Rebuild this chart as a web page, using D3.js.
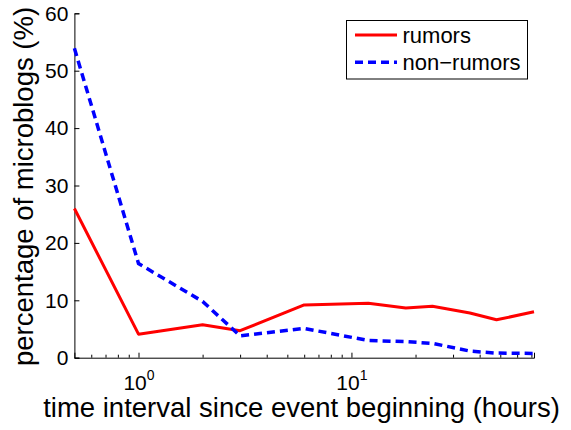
<!DOCTYPE html>
<html>
<head>
<meta charset="utf-8">
<script src="https://cdn.jsdelivr.net/npm/d3@7"></script>
<style>
  html, body { margin: 0; padding: 0; background: #fff; }
  svg { display: block; font-family: "Liberation Sans", Arial, sans-serif; }
</style>
</head>
<body>
<svg id="chart" width="571" height="430"></svg>
<script>
// Data (hours since event beginning)
const hours = [0.5, 1, 2, 3, 6, 12, 18, 24, 36, 48, 72];
const rumors = [26.0, 4.1, 5.75, 4.7, 9.2, 9.5, 8.65, 8.95, 7.8, 6.6, 8.0];
const nonRumors = [53.9, 16.4, 9.8, 3.8, 5.1, 3.0, 2.8, 2.5, 1.15, 0.8, 0.75];
const yTicks = [0, 10, 20, 30, 40, 50, 60];
const xMajorTicks = [1, 10];
const xMinorTicks = [0.6, 0.7, 0.8, 0.9, 2, 3, 4, 5, 6, 7, 8, 9, 20, 30, 40, 50, 60, 70];
const seriesNames = ["rumors", "non\u2212rumors"];

const svg = d3.select("#chart");
const pLeft = 74.4, pRight = 534, pTop = 13.3, pBottom = 357.7;

const x = d3.scaleLog().domain([0.5, 72]).range([pLeft, pRight]);
const y = d3.scaleLinear().domain([0, 60]).range([pBottom, pTop]);

const g = svg.append("g");

// Y axis (ticks inward)
const yAxis = d3.axisLeft(y).tickValues(yTicks).tickSize(-5).tickPadding(6).tickFormat(d3.format("d"));
const gy = g.append("g").attr("transform", `translate(${pLeft},0)`).call(yAxis);
gy.select(".domain").attr("stroke", "#000").attr("stroke-width", 1);
gy.selectAll(".tick line").attr("stroke", "#000");
gy.selectAll(".tick text").attr("font-size", 21).attr("fill", "#000")
  .attr("font-family", "Liberation Sans, Arial, sans-serif");

// X axis major ticks inward
const xAxis = d3.axisBottom(x).tickValues(xMajorTicks).tickSize(-5).tickFormat(() => "");
const gx = g.append("g").attr("transform", `translate(0,${pBottom})`).call(xAxis);
gx.select(".domain").attr("stroke", "#000").attr("stroke-width", 1);
gx.selectAll(".tick line").attr("stroke", "#000");
// custom superscript labels for major ticks
gx.selectAll(".tick").each(function(d) {
  const t = d3.select(this).select("text");
  t.attr("font-size", 21).attr("fill", "#000").attr("y", 32).attr("dy", null).attr("text-anchor", "middle")
   .attr("font-family", "Liberation Sans, Arial, sans-serif");
  t.text(null);
  t.append("tspan").text("10");
  t.append("tspan").attr("font-size", 14).attr("dy", -10).text(String(Math.round(Math.log10(d))));
});
// minor ticks
const xMinorAxis = d3.axisBottom(x).tickValues(xMinorTicks).tickSize(-3).tickFormat(() => "");
const gxm = g.append("g").attr("transform", `translate(0,${pBottom})`).call(xMinorAxis);
gxm.select(".domain").remove();
gxm.selectAll(".tick line").attr("stroke", "#000");

// Lines
const line = d3.line().x((d, i) => x(hours[i])).y(d => y(d));
g.append("path").datum(rumors).attr("d", line)
  .attr("fill", "none").attr("stroke", "#ff0000").attr("stroke-width", 3).attr("stroke-linejoin", "round");
g.append("path").datum(nonRumors).attr("d", line)
  .attr("fill", "none").attr("stroke", "#0000ff").attr("stroke-width", 3.5).attr("stroke-dasharray", "8,5");

// Axis labels
svg.append("text").attr("x", 301.5).attr("y", 416.5).attr("text-anchor", "middle")
  .attr("font-size", 27.5).attr("fill", "#000").text("time interval since event beginning (hours)");
svg.append("text").attr("transform", "translate(32.5,186.5) rotate(-90)").attr("text-anchor", "middle")
  .attr("font-size", 27.5).attr("fill", "#000").text("percentage of microblogs (%)");

// Legend
const lg = svg.append("g");
lg.append("rect").attr("x", 346.5).attr("y", 20.5).attr("width", 181).attr("height", 58.5)
  .attr("fill", "#fff").attr("stroke", "#000").attr("stroke-width", 1);
const legendColors = ["#ff0000", "#0000ff"];
const legendDash = [null, "8,5"];
const legendY = [35, 62.3];
seriesNames.forEach((name, i) => {
  lg.append("line").attr("x1", 355).attr("x2", 397).attr("y1", legendY[i]).attr("y2", legendY[i])
    .attr("stroke", legendColors[i]).attr("stroke-width", i ? 3.5 : 3).attr("stroke-dasharray", legendDash[i]);
  lg.append("text").attr("x", 402.5).attr("y", legendY[i] + 8).attr("font-size", 22).attr("fill", "#000").text(name);
});
</script>
</body>
</html>
